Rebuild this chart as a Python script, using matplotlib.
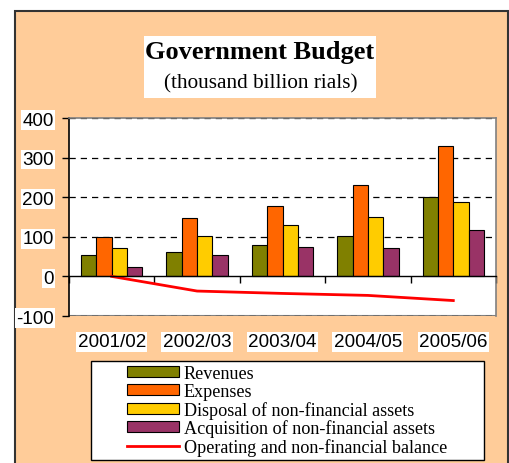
import matplotlib
matplotlib.use("Agg")
import matplotlib.pyplot as plt
from matplotlib.patches import Rectangle, Patch
from matplotlib.lines import Line2D
import matplotlib.transforms as mtransforms
import numpy as np

plt.rcParams["axes.unicode_minus"] = False

categories = ["2001/02", "2002/03", "2003/04", "2004/05", "2005/06"]
revenues = [53, 62, 79, 103, 200]
expenses = [100, 148, 177, 231, 330]
disposal = [72, 103, 129, 150, 187]
acquisition = [24, 55, 74, 72, 118]
balance = [0, -37, -43, -48, -61]
series_names = ["Revenues", "Expenses", "Disposal of non-financial assets",
                "Acquisition of non-financial assets"]
line_name = "Operating and non-financial balance"
yticks = [-100, 0, 100, 200, 300, 400]

colors = ["#808000", "#FF6600", "#FFCC00", "#993366"]
W, H = 509, 464
fig = plt.figure(figsize=(W / 100, H / 100), dpi=100)
fig.patch.set_facecolor("white")

def fx(px):
    return px / W

def fy(py):
    return 1 - py / H

# outer peach box
fig.patches.append(Rectangle((fx(15), fy(480)), fx(508) - fx(15), fy(12) - fy(480),
                             transform=fig.transFigure, facecolor="#FFCC99",
                             edgecolor="#333333", lw=1.5, zorder=-2))

# title box
fig.patches.append(Rectangle((fx(144), fy(99)), fx(376) - fx(144), fy(37) - fy(99),
                             transform=fig.transFigure, facecolor="white",
                             edgecolor="none", zorder=-1))
fig.text(fx(260), fy(53), "Government Budget", ha="center", va="center",
         fontsize=19, fontweight="bold", family="Liberation Serif", zorder=2)
fig.text(fx(260.5), fy(84), "(thousand billion rials)", ha="center", va="center",
         fontsize=15.3, family="Liberation Serif", zorder=2)

ax = fig.add_axes([fx(69), fy(317), fx(496) - fx(69), fy(119) - fy(317)])
ax.set_zorder(2)
ax.set_facecolor("white")
x = np.arange(len(categories))
bw = 0.18
for i, (vals, c) in enumerate(zip([revenues, expenses, disposal, acquisition], colors)):
    ax.bar(x + (i - 1.5) * bw, vals, width=bw, color=c, edgecolor="black",
           linewidth=0.8, zorder=3)
ax.plot(x, balance, color="#FF0000", lw=2, zorder=4)

ax.set_xlim(-0.5, len(categories) - 0.5)
ax.set_ylim(min(yticks), max(yticks))
ax.set_yticks(yticks)
ax.axhline(min(yticks), color="#808080", lw=1.5, zorder=1.5)
for yv in yticks:
    if yv != 0:
        ax.axhline(yv, color="black", lw=0.9, dashes=(5, 4), zorder=2)

for s in ["top", "right"]:
    ax.spines[s].set_color("#808080")
    ax.spines[s].set_linewidth(1.2)
ax.spines["left"].set_color("black")
ax.spines["left"].set_linewidth(1.2)
ax.spines["bottom"].set_position(("data", 0))
ax.spines["bottom"].set_color("black")
ax.spines["bottom"].set_linewidth(1.0)
ax.spines["bottom"].set_zorder(5)
ax.set_xticks(np.arange(len(categories) + 1) - 0.5)
ax.set_xticklabels([])
ax.tick_params(axis="x", direction="out", length=5, width=1, color="black")
ax.tick_params(axis="y", direction="out", length=5, width=1, color="black",
               labelsize=13.6, pad=6)
for lab in ax.get_yticklabels():
    lab.set_family("Liberation Sans")
    lab.set_bbox(dict(facecolor="white", edgecolor="none", pad=1))

trans = mtransforms.blended_transform_factory(ax.transData, ax.transAxes)
ylab = (fy(343) - fy(317)) / (fy(119) - fy(317))
for xi, cat in zip(x, categories):
    ax.text(xi, ylab, cat, transform=trans, ha="center", va="center",
            fontsize=13.6, family="Liberation Sans", clip_on=False,
            bbox=dict(facecolor="white", edgecolor="none", pad=1))

# legend
fig.patches.append(Rectangle((fx(91), fy(461)), fx(484) - fx(91), fy(362) - fy(461),
                             transform=fig.transFigure, facecolor="white",
                             edgecolor="black", lw=1, zorder=-1))
handles = [Patch(facecolor=c, edgecolor="black", lw=0.8) for c in colors]
handles.append(Line2D([], [], color="#FF0000", lw=2))
leg = fig.legend(handles, series_names + [line_name], loc="upper left",
                 bbox_to_anchor=(fx(125), fy(364)), frameon=False,
                 prop={"family": "Liberation Serif", "size": 13.1},
                 handlelength=2.87, handleheight=0.55, labelspacing=0.05,
                 handletextpad=0.25, borderpad=0.1, borderaxespad=0)
leg.set_zorder(3)

fig.savefig("out.png", dpi=100, facecolor="white")
